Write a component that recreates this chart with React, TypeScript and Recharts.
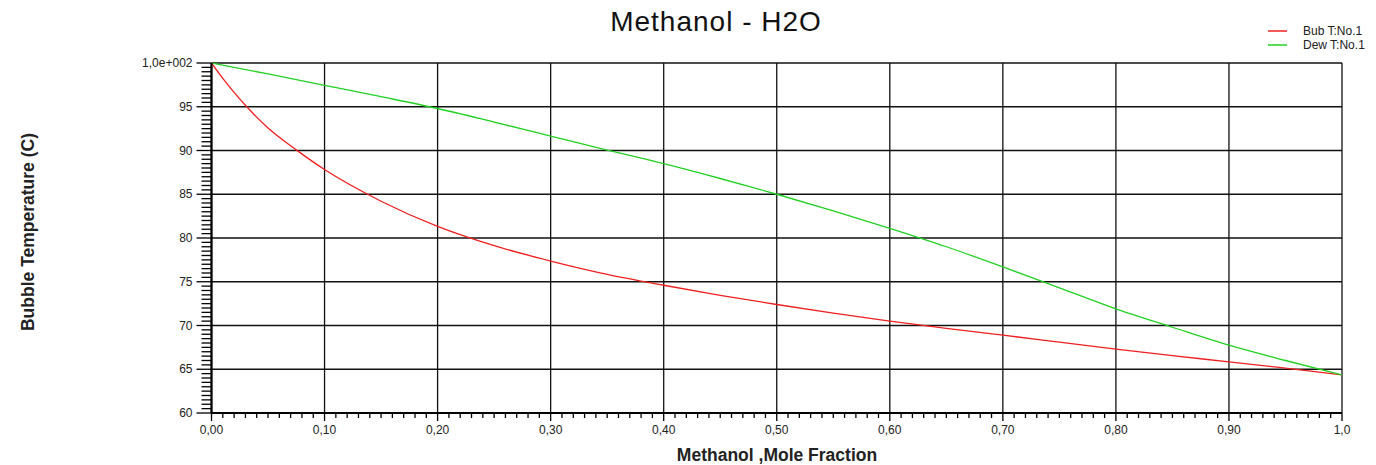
import React from "react";
import { LineChart, Line, XAxis, YAxis, CartesianGrid, Legend } from "recharts";

// ---- data ----
const bubbleX = [0, 0.01, 0.02, 0.03, 0.05, 0.075, 0.1, 0.15, 0.2, 0.25, 0.3, 0.35, 0.4, 0.45, 0.5, 0.55, 0.6, 0.65, 0.7, 0.75, 0.8, 0.85, 0.9, 0.95, 1.0];
const bubbleT = [100, 98.25, 96.65, 95.17, 92.57, 90.07, 87.82, 84.2, 81.32, 79.12, 77.37, 75.85, 74.6, 73.45, 72.4, 71.42, 70.5, 69.68, 68.9, 68.1, 67.3, 66.55, 65.85, 65.12, 64.35];

const dewX = [0, 0.05, 0.1, 0.15, 0.2, 0.25, 0.3, 0.35, 0.4, 0.45, 0.5, 0.55, 0.6, 0.65, 0.7, 0.75, 0.8, 0.85, 0.9, 0.95, 1.0];
const dewT = [100, 98.75, 97.45, 96.15, 94.8, 93.25, 91.65, 90.05, 88.5, 86.8, 85.0, 83.1, 81.1, 79.0, 76.7, 74.3, 71.9, 69.8, 67.75, 66.0, 64.35];

const xMajorTicks = [0, 0.1, 0.2, 0.3, 0.4, 0.5, 0.6, 0.7, 0.8, 0.9, 1.0];
const xTickLabels = ["0,00", "0,10", "0,20", "0,30", "0,40", "0,50", "0,60", "0,70", "0,80", "0,90", "1,0"];
const yMajorTicks = [60, 65, 70, 75, 80, 85, 90, 95, 100];
const yTickLabels = ["60", "65", "70", "75", "80", "85", "90", "95", "1,0e+002"];

// minor tick positions (axis decoration)
const xAllTicks = Array.from({ length: 101 }, (_, i) => i / 100);
const yAllTicks = Array.from({ length: 81 }, (_, i) => 60 + i / 2);

const bubbleData = bubbleX.map((x, i) => ({ x, t: bubbleT[i] }));
const dewData = dewX.map((x, i) => ({ x, t: dewT[i] }));

const FONT = '"Liberation Sans", Arial, Helvetica, sans-serif';

const XTick = (props: any) => {
  const { x, y, payload } = props;
  const v = payload.value as number;
  const k = Math.round(v * 100);
  const major = k % 10 === 0;
  const idx = Math.round(k / 10);
  return (
    <g>
      <line x1={x} y1={y} x2={x} y2={y + (major ? 8 : 5)} stroke="#000" strokeWidth={1.3} />
      {major && (
        <text x={x} y={y + 21} textAnchor="middle" fontSize={12} fontFamily={FONT} fill="#222">
          {xTickLabels[idx]}
        </text>
      )}
    </g>
  );
};

const YTick = (props: any) => {
  const { x, y, payload } = props;
  const v = payload.value as number;
  const k = Math.round(v * 2);
  const major = k % 10 === 0;
  const idx = yMajorTicks.indexOf(Math.round(v));
  return (
    <g>
      <line x1={x - (major ? 15 : 10)} y1={y} x2={x} y2={y} stroke="#000" strokeWidth={1.3} />
      {major && idx >= 0 && (
        <text x={x - 19} y={y} dy="0.35em" textAnchor="end" fontSize={12} fontFamily={FONT} fill="#222">
          {yTickLabels[idx]}
        </text>
      )}
    </g>
  );
};

const LegendContent = (props: any) => {
  const { payload } = props;
  return (
    <div style={{ fontFamily: FONT, fontSize: 12, color: "#222" }}>
      {(payload || []).map((p: any) => (
        <div key={p.value} style={{ display: "flex", alignItems: "center", height: 14, lineHeight: "14px", whiteSpace: "nowrap" }}>
          <svg width={24} height={14} style={{ display: "block" }}>
            <line x1={4} y1={7} x2={23} y2={7} stroke={p.color} strokeWidth={1.5} />
          </svg>
          <span style={{ marginLeft: 15 }}>{p.value}</span>
        </div>
      ))}
    </div>
  );
};

export default function App() {
  return (
    <div style={{ position: "absolute", left: 0, top: 0, width: 1376, height: 465, background: "#fff", fontFamily: FONT }}>
      <div
        style={{
          position: "absolute",
          left: 716,
          top: 8.3,
          transform: "translateX(-50%)",
          fontSize: 28,
          letterSpacing: 1,
          lineHeight: "28px",
          whiteSpace: "nowrap",
          color: "#111",
        }}
      >
        Methanol - H2O
      </div>
      <div
        style={{
          position: "absolute",
          left: 28,
          top: 231.5,
          transform: "translate(-50%, -50%) rotate(-90deg)",
          fontSize: 17.5,
          fontWeight: "bold",
          lineHeight: "18px",
          whiteSpace: "nowrap",
          color: "#222",
        }}
      >
        Bubble Temperature (C)
      </div>
      <div
        style={{
          position: "absolute",
          left: 777,
          top: 447,
          transform: "translateX(-50%)",
          fontSize: 17.5,
          fontWeight: "bold",
          lineHeight: "17px",
          whiteSpace: "nowrap",
          color: "#222",
        }}
      >
        Methanol ,Mole Fraction
      </div>
      <LineChart
        width={1376}
        height={465}
        margin={{ top: 63, right: 34, bottom: 22, left: 151.5 }}
        style={{ position: "absolute", left: 0, top: 0 }}
      >
        <CartesianGrid
          stroke="#111"
          strokeWidth={1.3}
          verticalValues={xMajorTicks}
          horizontalValues={yMajorTicks}
        />
        <XAxis
          dataKey="x"
          type="number"
          domain={[0, 1]}
          ticks={xAllTicks}
          interval={0}
          tickSize={0}
          tickMargin={0}
          tickLine={false}
          axisLine={{ stroke: "#000", strokeWidth: 2.2 }}
          tick={<XTick />}
          height={30}
          allowDataOverflow
        />
        <YAxis
          dataKey="t"
          type="number"
          domain={[60, 100]}
          ticks={yAllTicks}
          interval={0}
          tickSize={0}
          tickMargin={0}
          tickLine={false}
          axisLine={{ stroke: "#000", strokeWidth: 2.2 }}
          tick={<YTick />}
          width={60}
          allowDataOverflow
        />
        <Legend
          layout="vertical"
          align="center"
          verticalAlign="middle"
          content={<LegendContent />}
          wrapperStyle={{ position: "absolute", top: 24, left: 1264, width: 112 }}
        />
        <Line
          data={bubbleData}
          dataKey="t"
          name="Bub T:No.1"
          type="monotone"
          stroke="#f02020"
          strokeWidth={1.3}
          dot={false}
          activeDot={false}
          isAnimationActive={false}
        />
        <Line
          data={dewData}
          dataKey="t"
          name="Dew T:No.1"
          type="monotone"
          stroke="#22d022"
          strokeWidth={1.3}
          dot={false}
          activeDot={false}
          isAnimationActive={false}
        />
      </LineChart>
    </div>
  );
}
